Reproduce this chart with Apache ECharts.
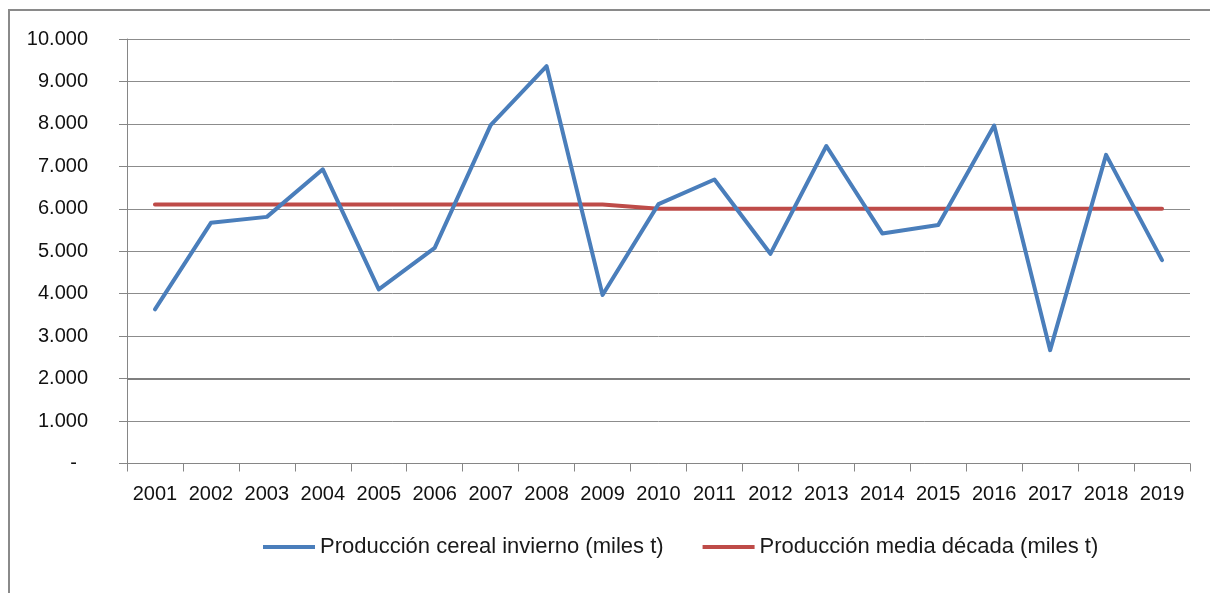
<!DOCTYPE html>
<html>
<head>
<meta charset="utf-8">
<script src="https://cdn.jsdelivr.net/npm/echarts@6/dist/echarts.min.js"></script>
<style>
html,body{margin:0;padding:0;background:#fff;}
#chart{width:1210px;height:593px;}
</style>
</head>
<body>
<div id="chart"></div>
<script>
var years = ['2001','2002','2003','2004','2005','2006','2007','2008','2009','2010','2011','2012','2013','2014','2015','2016','2017','2018','2019'];
var produccion = [3630, 5670, 5810, 6930, 4100, 5080, 7970, 9360, 3970, 6110, 6690, 4940, 7480, 5420, 5620, 7960, 2670, 7270, 4790];
var mediaDecada = [6100, 6100, 6100, 6100, 6100, 6100, 6100, 6100, 6100, 6000, 6000, 6000, 6000, 6000, 6000, 6000, 6000, 6000, 6000];
var serieNames = ['Producción cereal invierno (miles t)', 'Producción media década (miles t)'];

var FONT = 'Liberation Sans';
var chart = echarts.init(document.getElementById('chart'), null, {renderer: 'canvas'});

function fmt(v) {
  if (v === 0) return '-  ';
  return String(v).replace(/\B(?=(\d{3})+(?!\d))/g, '.');
}

chart.setOption({
  animation: false,
  backgroundColor: '#ffffff',
  graphic: [{
    type: 'rect',
    shape: {x: 9, y: 10, width: 1240, height: 640},
    style: {fill: 'none', stroke: '#8a8a8a', lineWidth: 2},
    silent: true
  }],
  grid: {left: 127, right: 20, top: 39, bottom: 129.5, containLabel: false},
  legend: {
    top: 531,
    left: 258,
    itemWidth: 52,
    itemHeight: 4,
    itemGap: 39,
    icon: 'rect',
    textStyle: {fontFamily: FONT, fontSize: 22, color: '#1a1a1a'},
    data: serieNames
  },
  xAxis: {
    type: 'category',
    data: years,
    boundaryGap: true,
    axisLine: {lineStyle: {color: '#868686', width: 1}},
    axisTick: {show: true, length: 8, lineStyle: {color: '#868686'}},
    axisLabel: {fontFamily: FONT, fontSize: 20, color: '#111', margin: 21, interval: 0},
    splitLine: {show: false}
  },
  yAxis: {
    type: 'value',
    min: 0,
    max: 10000,
    interval: 1000,
    axisLine: {show: true, lineStyle: {color: '#868686', width: 1}},
    axisTick: {show: true, length: 8, lineStyle: {color: '#868686'}},
    axisLabel: {fontFamily: FONT, fontSize: 20, color: '#111', margin: 39, formatter: fmt},
    splitLine: {show: true, lineStyle: {color: '#8c8c8c', width: 1}}
  },
  series: [
    {
      name: serieNames[0],
      type: 'line',
      data: produccion,
      showSymbol: false,
      symbol: 'none',
      itemStyle: {color: '#4a7ebb'},
      lineStyle: {color: '#4a7ebb', width: 4, cap: 'round', join: 'round'},
      z: 3
    },
    {
      name: serieNames[1],
      type: 'line',
      data: mediaDecada,
      showSymbol: false,
      symbol: 'none',
      itemStyle: {color: '#be4b48'},
      lineStyle: {color: '#be4b48', width: 4, cap: 'round', join: 'round'},
      z: 2,
      markLine: {
        silent: true,
        symbol: 'none',
        label: {show: false},
        lineStyle: {color: '#7f7f7f', width: 2, type: 'solid'},
        data: [{yAxis: 2000}]
      }
    }
  ]
});
</script>
</body>
</html>
